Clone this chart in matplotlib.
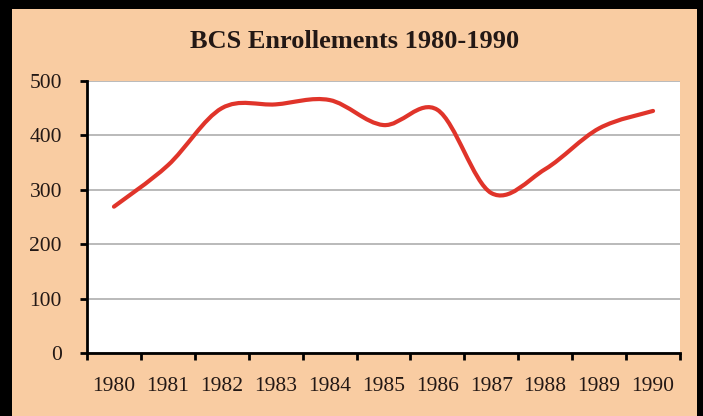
import matplotlib
matplotlib.use("Agg")
import matplotlib.pyplot as plt
from matplotlib.path import Path
from matplotlib.patches import PathPatch, Rectangle
import numpy as np

# chart data
years = ["1980", "1981", "1982", "1983", "1984", "1985",
         "1986", "1987", "1988", "1989", "1990"]
enrollments = [269, 345, 450, 457, 465, 419, 447, 294, 338, 413, 445]
y_ticks = [0, 100, 200, 300, 400, 500]

title = "BCS Enrollements 1980-1990"
peach = "#F9CCA2"
ink = "#231815"
red = "#E0342A"

plt.rcParams["font.family"] = ["Liberation Serif", "DejaVu Serif"]

fig = plt.figure(figsize=(7.03, 4.16), dpi=100)
fig.patch.set_facecolor("black")
# peach panel inside the black frame
fig.patches.append(Rectangle((12 / 703, 0), (697 - 12) / 703, 1 - 9 / 416,
                             transform=fig.transFigure, facecolor=peach,
                             edgecolor="none", zorder=-1))

ax = fig.add_axes([87 / 703, 1 - 353 / 416, (680 - 87) / 703, (353 - 81) / 416])
ax.set_zorder(2)
ax.set_facecolor("white")

# smoothed line (Excel style cubic Bezier through the points)
xs = np.arange(len(enrollments), dtype=float)
ys = np.array(enrollments, dtype=float)
verts = [(xs[0], ys[0])]
codes = [Path.MOVETO]
n = len(xs)
for i in range(n - 1):
    i0 = max(i - 1, 0)
    i3 = min(i + 2, n - 1)
    c1 = (xs[i] + (xs[i + 1] - xs[i0]) / 6, ys[i] + (ys[i + 1] - ys[i0]) / 6)
    c2 = (xs[i + 1] - (xs[i3] - xs[i]) / 6, ys[i + 1] - (ys[i3] - ys[i]) / 6)
    verts += [c1, c2, (xs[i + 1], ys[i + 1])]
    codes += [Path.CURVE4] * 3
ax.add_patch(PathPatch(Path(verts, codes), facecolor="none", edgecolor=red,
                       linewidth=3.0, capstyle="round", joinstyle="round", zorder=3))

ax.set_xlim(-0.5, len(years) - 0.5)
ax.set_ylim(0, 500)

# category labels at centres, tick marks between categories
ax.set_xticks(xs)
ax.set_xticklabels(years)
ax.set_xticks(np.arange(len(years) + 1) - 0.5, minor=True)
ax.tick_params(axis="x", which="major", length=0, pad=17, labelsize=15.5, labelcolor=ink)
ax.tick_params(axis="x", which="minor", length=5, width=2, direction="out", color="black")

ax.set_yticks(y_ticks)
ax.tick_params(axis="y", length=5, width=2, direction="out", pad=13,
               labelsize=15.5, labelcolor=ink, color="black")

ax.grid(axis="y", color="#b4b4b4", linewidth=1.3, zorder=1)
ax.set_axisbelow(True)

for side in ("top", "right"):
    ax.spines[side].set_visible(False)
for side in ("left", "bottom"):
    ax.spines[side].set_linewidth(2)
    ax.spines[side].set_color("black")
    ax.spines[side].set_zorder(4)

fig.text(355 / 703, 1 - 42 / 416, title, ha="center", va="center",
         fontsize=19, fontweight="bold", color=ink)

fig.savefig("out.png", dpi=100, facecolor=fig.get_facecolor())
